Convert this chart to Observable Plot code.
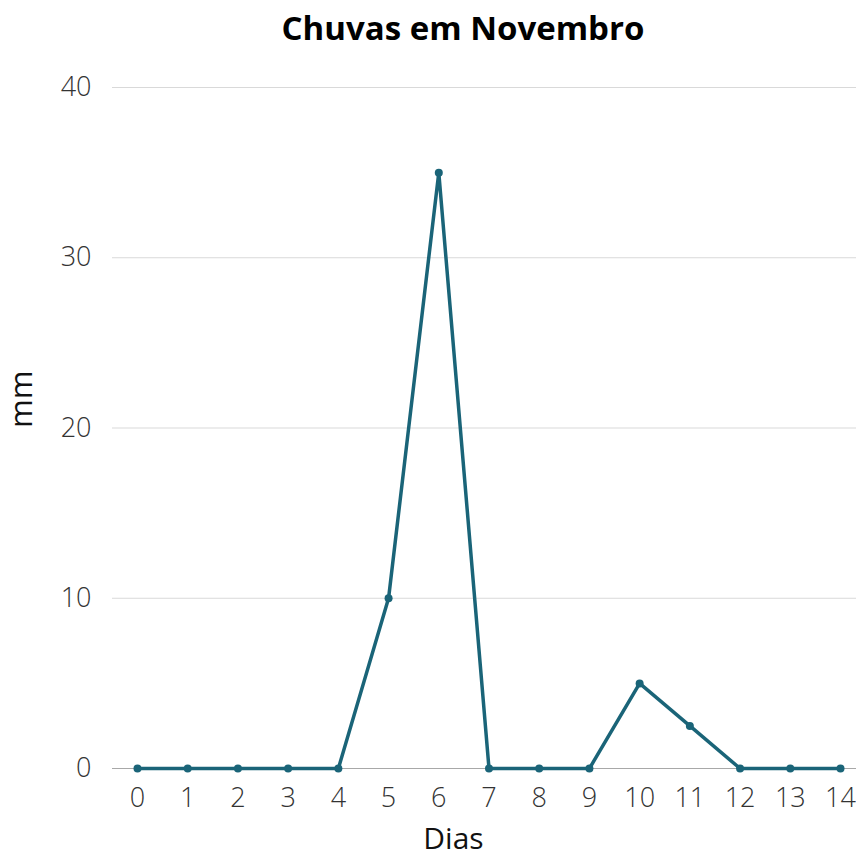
<!DOCTYPE html>
<html>
<head>
<meta charset="utf-8">
<script src="https://cdn.jsdelivr.net/npm/d3@7"></script>
<script src="https://cdn.jsdelivr.net/npm/@observablehq/plot@0.6"></script>
<style>
  body { margin: 0; background: #fff; font-family: "Open Sans", sans-serif; }
  #title { height: 60px; line-height: 56px; text-align: center; padding-left: 70px; font-size: 33px; font-weight: 700; color: #000; box-sizing: border-box; width: 856px; }
  svg { overflow: visible; }
</style>
</head>
<body>
<div id="title">Chuvas em Novembro</div>
<div id="chart"></div>
<script>
const dias = [0,1,2,3,4,5,6,7,8,9,10,11,12,13,14];
const mm = [0,0,0,0,0,10,35,0,0,0,5,2.5,0,0,0];
const yTicks = [0,10,20,30,40];
const data = dias.map((d,i) => ({dia: d, mm: mm[i]}));

const chart = Plot.plot({
  width: 856,
  height: 799,
  marginTop: 27,
  marginBottom: 91,
  marginLeft: 112,
  marginRight: 0,
  style: { fontFamily: "'Open Sans', sans-serif", fontSize: "27px", fontWeight: 300, color: "#333", overflow: "visible" },
  x: { domain: [0, 14], range: [137, 840] },
  y: { domain: [0, 40] },
  marks: [
    Plot.gridY(yTicks, { stroke: "#d9d9d9", strokeOpacity: 1, strokeWidth: 1 }),
    Plot.ruleY([0], { stroke: "#a8a8a8", strokeWidth: 1.2 }),
    Plot.axisY(yTicks, { tickSize: 0, tickPadding: 21, label: null, fontSize: 27, fontWeight: 300 }),
    Plot.axisX(dias, { tickSize: 0, tickPadding: 19, label: null, fontSize: 27, fontWeight: 300 }),
    Plot.text(["Dias"], { frameAnchor: "bottom", dy: 80, dx: -31, fontSize: 30, fontWeight: 400, fill: "#111", lineAnchor: "bottom" }),
    Plot.text(["mm"], { frameAnchor: "left", dx: -90, rotate: -90, fontSize: 31, fontWeight: 400, fill: "#111" }),
    Plot.line(data, { x: "dia", y: "mm", stroke: "#1a6478", strokeWidth: 3.5 }),
    Plot.dot(data, { x: "dia", y: "mm", fill: "#1a6478", r: 4 })
  ]
});
document.getElementById("chart").appendChild(chart);
</script>
</body>
</html>
